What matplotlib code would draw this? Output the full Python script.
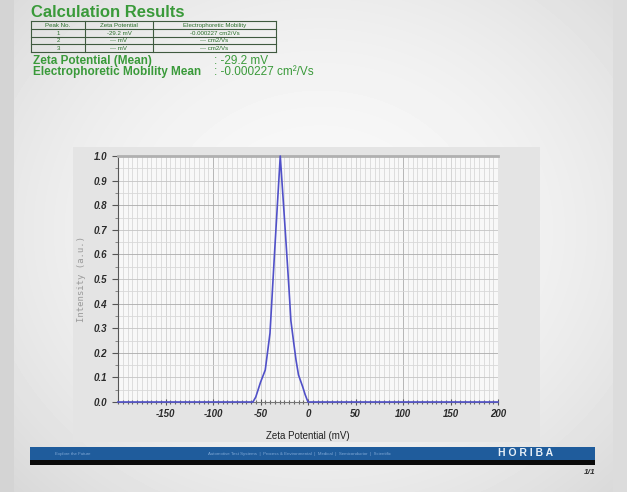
import numpy as np
import matplotlib
matplotlib.use("Agg")
import matplotlib.pyplot as plt
from matplotlib.patches import Rectangle
from matplotlib.ticker import MultipleLocator, FixedLocator

# ---- data ----
zeta_mv = [-200, -100, -58, -55, -50, -45, -40, -35, -29.2, -24, -20, -18,
           -15, -12.6, -10, -5.6, -3, 0, 100, 200]
intensity = [0.0, 0.0, 0.0, 0.02, 0.08, 0.13, 0.28, 0.62, 1.0, 0.70, 0.46,
             0.33, 0.24, 0.17, 0.11, 0.062, 0.03, 0.0, 0.0, 0.0]
x_ticks = [-150, -100, -50, 0, 50, 100, 150, 200]
y_ticks = [0.0, 0.1, 0.2, 0.3, 0.4, 0.5, 0.6, 0.7, 0.8, 0.9, 1.0]

table_header = ["Peak No.", "Zeta Potential", "Electrophoretic Mobility"]
table_rows = [["1", "-29.2 mV", "-0.000227 cm2/Vs"],
              ["2", "--- mV", "--- cm2/Vs"],
              ["3", "--- mV", "--- cm2/Vs"]]
mean_labels = ["Zeta Potential (Mean)", "Electrophoretic Mobility Mean"]
mean_values = [": -29.2 mV", ": -0.000227 cm\u00b2/Vs"]

W, H = 627, 492
fig = plt.figure(figsize=(W / 100, H / 100), dpi=100)

GREEN = "#3a9a3a"
SANS = "Liberation Sans"

# ---- page background (pixel coordinates) ----
bg = fig.add_axes([0, 0, 1, 1])
bg.set_xlim(0, W)
bg.set_ylim(H, 0)
bg.axis("off")
yy, xx = np.mgrid[0:H, 0:W]
r = np.sqrt(((xx - 320) / 380.0) ** 2 + ((yy - 230) / 330.0) ** 2)
shade = np.clip(0.975 - 0.10 * r ** 2, 0.84, 0.975)
bg.imshow(shade, cmap="gray", vmin=0, vmax=1, extent=[0, W, H, 0],
          aspect="auto", zorder=0)
# darker margins of the page
bg.add_patch(Rectangle((0, 0), 14, H, color="#d4d4d4", zorder=1, lw=0))
bg.add_patch(Rectangle((613, 0), 14, H, color="#dcdcdc", zorder=1, lw=0))

# title
bg.text(31, 17, "Calculation Results", fontsize=12, fontweight="bold",
        color=GREEN, family=SANS, ha="left", va="baseline", zorder=3)

# results table
col_x = [31, 85, 153, 276]
row_y = [21, 29, 37, 44, 52]
lc = "#3f5a3f"
for x in col_x:
    bg.plot([x, x], [row_y[0], row_y[-1]], color=lc, lw=0.8, zorder=3)
for y in row_y:
    bg.plot([col_x[0], col_x[-1]], [y, y], color=lc, lw=0.8, zorder=3)
for j, txt in enumerate(table_header):
    bg.text((col_x[j] + col_x[j + 1]) / 2, (row_y[0] + row_y[1]) / 2 + 0.3,
            txt, fontsize=4.4, color="#2a6e2a", family=SANS, ha="center",
            va="center", zorder=3)
for i, row in enumerate(table_rows):
    for j, txt in enumerate(row):
        bg.text((col_x[j] + col_x[j + 1]) / 2,
                (row_y[i + 1] + row_y[i + 2]) / 2 + 0.3,
                txt, fontsize=4.4, color="#2a6e2a", family=SANS,
                ha="center", va="center", zorder=3)

for k, (lab, val) in enumerate(zip(mean_labels, mean_values)):
    y = 61 + 11 * k
    bg.text(33, y, lab, fontsize=8.5, fontweight="bold", color=GREEN,
            family=SANS, ha="left", va="center", zorder=3)
    bg.text(214, y, val, fontsize=8.5, color=GREEN, family=SANS,
            ha="left", va="center", zorder=3)

# graph panel
bg.add_patch(Rectangle((73, 147), 467, 295, facecolor="#e4e4e4",
                       edgecolor="none", zorder=2))

# footer banner
bg.add_patch(Rectangle((30, 447), 565, 13, facecolor="#1f5c9c",
                       edgecolor="none", zorder=2))
bg.add_patch(Rectangle((30, 460), 565, 5, facecolor="#0a0a0a",
                       edgecolor="none", zorder=2))
bg.text(55, 453.5, "Explore the Future", fontsize=3.2, color="#7fa8d6",
        family=SANS, ha="left", va="center", zorder=3)
bg.text(300, 453.5,
        "Automotive Test Systems  |  Process & Environmental  |  Medical  |  "
        "Semiconductor  |  Scientific",
        fontsize=3.2, color="#7fa8d6", family=SANS, ha="center",
        va="center", zorder=3)
bg.text(526, 453.5, "H O R I B A", fontsize=7.5, fontweight="bold",
        color="#e8f0f8", family=SANS, ha="center", va="center", zorder=3)
bg.text(595, 472, "1/1", fontsize=6, fontweight="bold", style="italic",
        color="#333333", family=SANS, ha="right", va="center", zorder=3)

# ---- distribution graph ----
ax = fig.add_axes([118 / W, 1 - 402 / H, 380 / W, 246 / H])
ax.set_facecolor("#f8f8f8")
ax.set_xlim(-200, 200)
ax.set_ylim(0, 1.0)

# grid: fine, medium and coarse lines
for v in np.arange(-200, 201, 5):
    c = "#ababab" if v % 100 == 0 else ("#cfcfcf" if v % 50 == 0 else "#d8d8d8")
    ax.axvline(v, color=c, lw=0.6, zorder=0)
for v in np.arange(0, 1.001, 0.05):
    k = round(v * 100)
    c = "#ababab" if k % 20 == 0 else ("#c4c4c4" if k % 10 == 0 else "#d8d8d8")
    ax.axhline(v, color=c, lw=0.6, zorder=0)

ax.plot(zeta_mv, intensity, color="#5050c8", lw=1.2, zorder=3, clip_on=False)

ax.xaxis.set_major_locator(FixedLocator(x_ticks))
ax.xaxis.set_minor_locator(MultipleLocator(5))
ax.yaxis.set_major_locator(FixedLocator(y_ticks))
ax.yaxis.set_minor_locator(MultipleLocator(0.05))
ax.set_xticklabels([f"{v:d}" for v in x_ticks])
ax.set_yticklabels([f"{v:.1f}" for v in y_ticks])
ax.tick_params(axis="both", which="major", length=4, width=0.8,
               color="#555555", labelsize=7, labelcolor="#2a2a2a")
ax.tick_params(axis="x", which="major", direction="inout", pad=3)
ax.tick_params(axis="x", which="minor", direction="inout", length=3,
               width=0.8, color="#666666")
ax.tick_params(axis="y", which="minor", length=2, width=0.6,
               color="#777777")
for lab in ax.get_xticklabels() + ax.get_yticklabels():
    lab.set_fontweight("bold")
    lab.set_fontstyle("italic")
    lab.set_family(SANS)

ax.spines["right"].set_visible(False)
ax.spines["top"].set_color("#b0b0b0")
ax.spines["top"].set_linewidth(2)
ax.spines["left"].set_color("#555555")
ax.spines["left"].set_linewidth(0.8)
ax.spines["bottom"].set_color("#777777")
ax.spines["bottom"].set_linewidth(0.8)

ax.set_xlabel("Zeta Potential (mV)", fontsize=7, color="#222222",
              family=SANS, labelpad=9)
ax.set_ylabel("Intensity (a.u.)", fontsize=6.5, color="#9a9a9a",
              family="DejaVu Sans Mono", labelpad=6)

fig.savefig("out.png", dpi=100)
